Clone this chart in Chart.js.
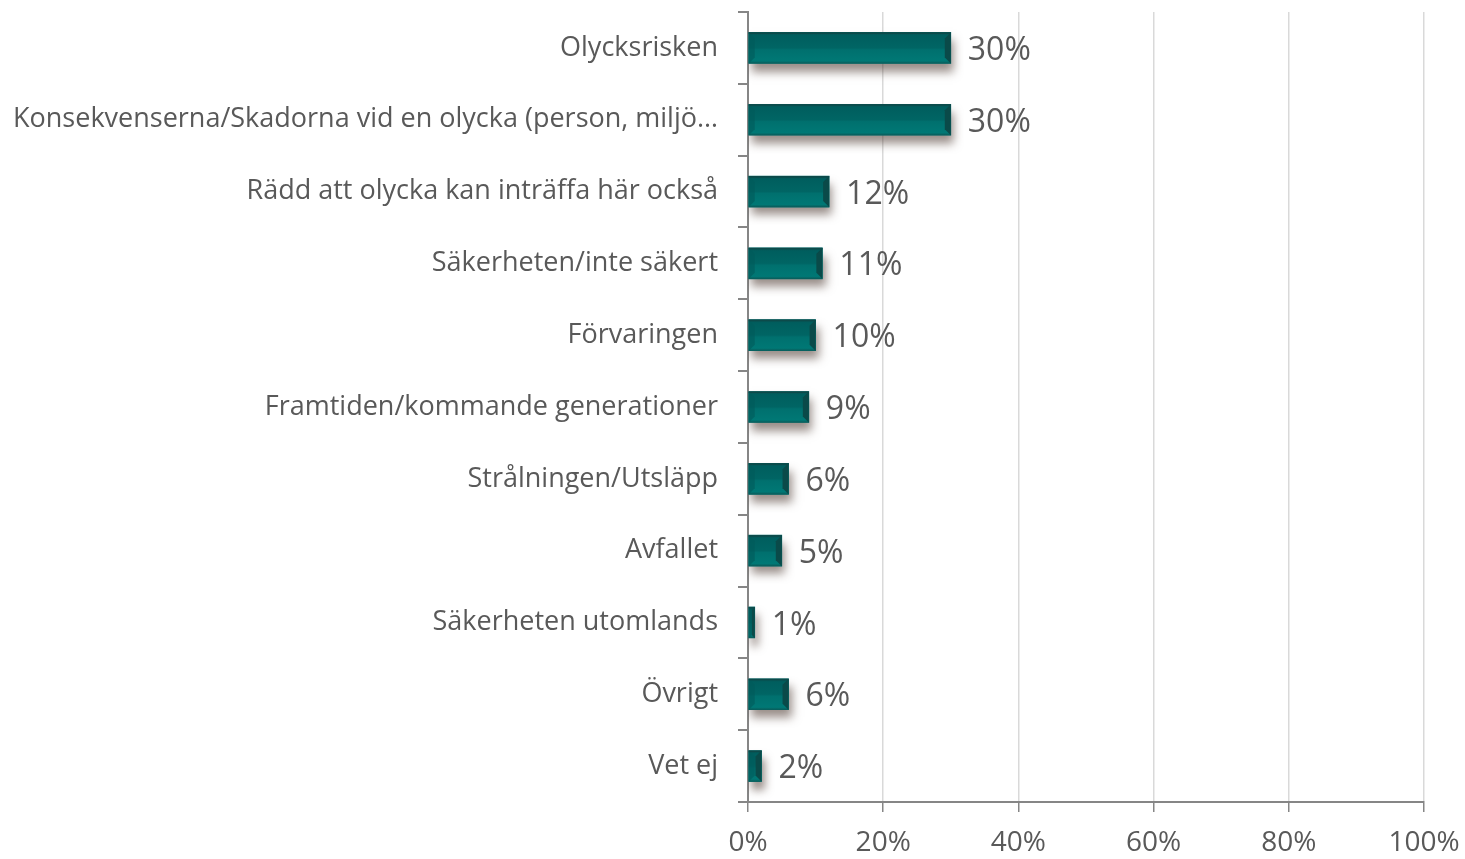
<!DOCTYPE html>
<html>
<head>
<meta charset="utf-8">
<script src="https://cdn.jsdelivr.net/npm/chart.js@4"></script>
<style>
html,body{margin:0;padding:0;background:#fff;}
#wrap{width:1465px;height:859px;position:relative;}
</style>
</head>
<body>
<div id="wrap"><canvas id="c" width="1465" height="859"></canvas></div>
<script>
const categories = [
  "Olycksrisken",
  "Konsekvenserna/Skadorna vid en olycka (person, miljö…",
  "Rädd att olycka kan inträffa här också",
  "Säkerheten/inte säkert",
  "Förvaringen",
  "Framtiden/kommande generationer",
  "Strålningen/Utsläpp",
  "Avfallet",
  "Säkerheten utomlands",
  "Övrigt",
  "Vet ej"
];
const values = [30, 30, 12, 11, 10, 9, 6, 5, 1, 6, 2];
const valueLabels = ["30%", "30%", "12%", "11%", "10%", "9%", "6%", "5%", "1%", "6%", "2%"];
const xTickValues = [0, 20, 40, 60, 80, 100];

const FONT = "'Open Sans', sans-serif";
const TXT = "#595959";

const shadowPlugin = {
  id: 'shadowBars',
  beforeDatasetDraw(chart) {
    const ctx = chart.ctx;
    ctx.save();
    ctx.shadowColor = 'rgba(70,50,40,0.55)';
    ctx.shadowBlur = 9;
    ctx.shadowOffsetX = 3;
    ctx.shadowOffsetY = 8;
  },
  afterDatasetDraw(chart) {
    chart.ctx.restore();
  },
  afterDatasetsDraw(chart) {
    const ctx = chart.ctx;
    const meta = chart.getDatasetMeta(0);
    meta.data.forEach((bar, i) => {
      const left = Math.min(bar.base, bar.x);
      const right = Math.max(bar.base, bar.x);
      const top = bar.y - bar.height / 2;
      const bottom = bar.y + bar.height / 2;
      const w = right - left;
      const h = bottom - top;
      const g = ctx.createLinearGradient(0, top, 0, bottom);
      g.addColorStop(0, '#0b4f4f');
      g.addColorStop(0.1, '#005e5e');
      g.addColorStop(0.5, '#006564');
      g.addColorStop(0.56, '#00706e');
      g.addColorStop(0.92, '#007875');
      g.addColorStop(1, '#0a5a58');
      ctx.fillStyle = g;
      ctx.fillRect(left, top, w, h);
      const bv = Math.min(6, w / 2);
      ctx.fillStyle = '#0a4a49';
      ctx.beginPath();
      ctx.moveTo(right, top);
      ctx.lineTo(right - bv, top + bv);
      ctx.lineTo(right - bv, bottom - bv);
      ctx.lineTo(right, bottom);
      ctx.closePath();
      ctx.fill();
      ctx.fillStyle = 'rgba(0,90,90,0.6)';
      ctx.beginPath();
      ctx.moveTo(left, top);
      ctx.lineTo(left + bv, top + bv);
      ctx.lineTo(left + bv, bottom - bv);
      ctx.lineTo(left, bottom);
      ctx.closePath();
      ctx.fill();
      ctx.fillStyle = '#0d4a4a';
      ctx.fillRect(left, top, w, 1.5);
      ctx.fillStyle = TXT;
      ctx.font = "32px " + FONT;
      ctx.textAlign = 'left';
      ctx.textBaseline = 'middle';
      ctx.fillText(valueLabels[i], right + 17, bar.y + 3);
    });
  }
};

new Chart(document.getElementById('c'), {
  type: 'bar',
  data: {
    labels: categories,
    datasets: [{
      data: values,
      backgroundColor: '#006b6a',
      borderWidth: 0,
      barThickness: 31
    }]
  },
  options: {
    indexAxis: 'y',
    responsive: false,
    animation: false,
    devicePixelRatio: 1,
    layout: { padding: { top: 12, right: 41, left: 0, bottom: 0 } },
    plugins: { legend: { display: false }, tooltip: { enabled: false } },
    scales: {
      x: {
        min: 0, max: 100,
        afterBuildTicks(scale) { scale.ticks = xTickValues.map(v => ({ value: v })); },
        afterFit(scale) { scale.height = 57; scale.paddingLeft = 0; scale.paddingRight = 0; },
        grid: { color: '#d9d9d9', lineWidth: 1.5, tickColor: '#868686', tickLength: 10, drawTicks: true },
        border: { display: true, color: '#868686', width: 2 },
        ticks: {
          color: TXT, font: { family: FONT, size: 28 }, padding: 14,
          callback: v => v + '%'
        }
      },
      y: {
        afterFit(scale) { scale.width = 748; scale.paddingTop = 0; scale.paddingBottom = 0; },
        grid: { drawOnChartArea: false, offset: true, tickLength: 10, color: '#868686', lineWidth: 2 },
        border: { display: true, color: '#868686', width: 2 },
        ticks: { color: TXT, font: { family: FONT, size: 27 }, padding: 20, autoSkip: false }
      }
    }
  },
  plugins: [shadowPlugin]
});
</script>
</body>
</html>
